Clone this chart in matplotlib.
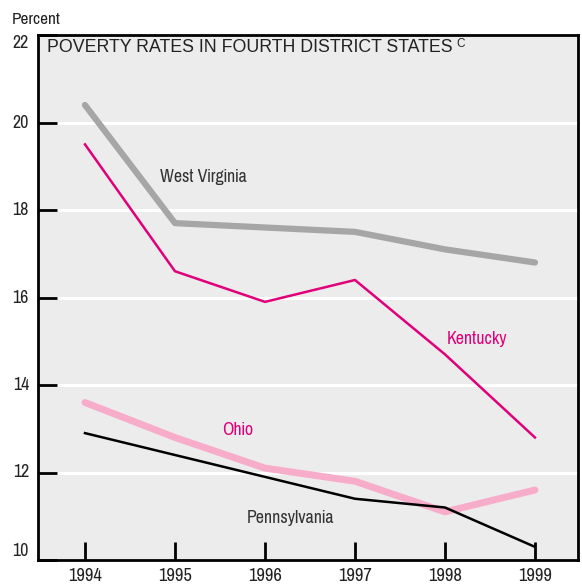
import matplotlib
matplotlib.use("Agg")
import matplotlib.pyplot as plt
from matplotlib import font_manager
import os

years = [1994, 1995, 1996, 1997, 1998, 1999]
west_virginia = [20.4, 17.7, 17.6, 17.5, 17.1, 16.8]
kentucky = [19.5, 16.6, 15.9, 16.4, 14.7, 12.8]
ohio = [13.6, 12.8, 12.1, 11.8, 11.1, 11.6]
pennsylvania = [12.9, 12.4, 11.9, 11.4, 11.2, 10.3]
yticks = [10, 12, 14, 16, 18, 20, 22]

cands = []
for f in font_manager.fontManager.ttflist:
    b = os.path.basename(f.fname)
    if ('Condensed' in b or 'Narrow' in b) and 'Bold' not in b and 'Oblique' not in b \
            and 'Italic' not in b and 'Mono' not in b and 'Serif' not in b:
        cands.append(f.fname)
cands.sort(key=lambda s: (0 if 'Narrow-Regular' in s else 1 if 'DejaVuSansCondensed.ttf' in s else 2))
cond = cands[0] if cands else None

if cond:
    fp = font_manager.FontProperties(fname=cond)
else:
    fp = font_manager.FontProperties(family='DejaVu Sans', stretch='condensed')

def F(size):
    p = fp.copy()
    p.set_size(size)
    return p

fig = plt.figure(figsize=(5.82, 5.86), dpi=100)
W, H = 582, 586
ax = fig.add_axes([38 / W, 1 - 560 / H, (578 - 38) / W, (560 - 35) / H])
ax.set_facecolor('#ececec')
ax.set_xlim(1993.478, 1999.478)
ax.set_ylim(10, 22)

for y in yticks[1:-1]:
    ax.axhline(y, color='white', lw=2.2, zorder=1)

ax.plot(years, west_virginia, color='#a6a6a6', lw=4.5, solid_capstyle='round', zorder=3)
ax.plot(years, kentucky, color='#e0007a', lw=1.8, zorder=4)
ax.plot(years, ohio, color='#f7adc9', lw=5, solid_capstyle='round', zorder=3)
ax.plot(years, pennsylvania, color='black', lw=1.8, zorder=5)

for s in ax.spines.values():
    s.set_linewidth(2)
    s.set_color('black')

ax.set_xticks(years)
ax.set_xticklabels([])
ax.set_yticks(yticks)
ax.set_yticklabels([])
ax.tick_params(axis='x', direction='in', length=13, width=2)
ax.tick_params(axis='y', direction='in', length=14, width=2, color='black')

for yr in years:
    ax.text(yr, -16 / 525, str(yr), transform=ax.get_xaxis_transform(), ha='center', va='center',
            fontproperties=F(14.5), color='#222222')

# y labels
ylab_pos = {22: 43, 20: 123, 18: 210, 16: 298, 14: 385, 12: 472, 10: 551}
for v, py in ylab_pos.items():
    fig.text(29 / W, 1 - py / H, str(v), ha='right', va='center', fontproperties=F(14), color='#222222')
fig.text(12 / W, 1 - 19 / H, 'Percent', ha='left', va='center', fontproperties=F(13.5), color='#222222')

fig.text(47 / W, 1 - 48 / H, 'POVERTY RATES IN FOURTH DISTRICT STATES',
         ha='left', va='center', fontsize=12.8, color='#222222', family='Liberation Sans')
fig.text(456 / W, 1 - 44 / H, 'C', ha='left', va='center', fontsize=8.5, color='#222222',
         family='Liberation Sans')

ax.text(1995.32, 18.75, 'West Virginia', fontproperties=F(14), color='#333333', ha='center', va='center')
ax.text(1998.36, 15.05, 'Kentucky', fontproperties=F(14), color='#e0007a', ha='center', va='center')
ax.text(1995.70, 12.97, 'Ohio', fontproperties=F(14), color='#e0007a', ha='center', va='center')
ax.text(1996.28, 10.97, 'Pennsylvania', fontproperties=F(14), color='#333333', ha='center', va='center')

fig.savefig('out.png', dpi=100)
